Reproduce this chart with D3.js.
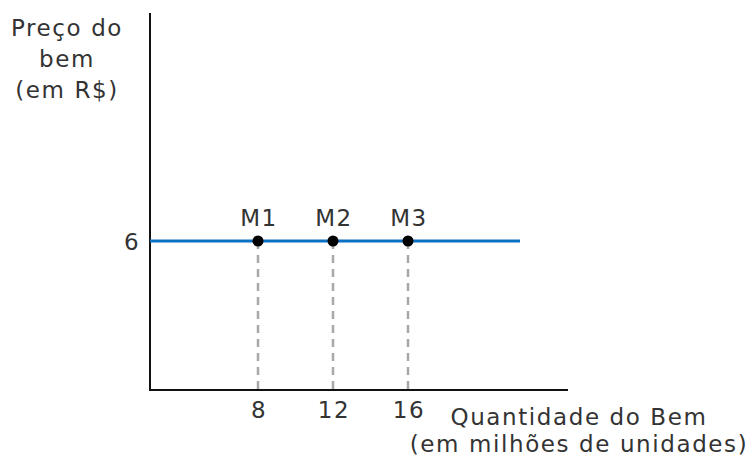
<!DOCTYPE html>
<html>
<head>
<meta charset="utf-8">
<script src="https://cdn.jsdelivr.net/npm/d3@7"></script>
<style>
  body { margin: 0; background: #fff; }
  text { font-family: "DejaVu Sans", Verdana, sans-serif; fill: #333; letter-spacing: 1.6px; }
</style>
</head>
<body>
<svg id="chart"></svg>
<script>
// valores
const pointLabels = ['M1', 'M2', 'M3'];
const quantities = [8, 12, 16];
const price = 6;
const xTicks = [8, 12, 16];
const yTicks = [6];
const yTitle = ['Preço do', 'bem', '(em R$)'];
const xTitle = ['Quantidade do Bem', '(em milhões de unidades)'];

var width = 752;
var height = 462;
var fs = 23;

const svg = d3.select('#chart')
    .attr('width', width)
    .attr('height', height);

// origem em x=150 / y=390
const x = d3.scaleLinear().domain([8, 16]).range([258, 408]);
const y = d3.scaleLinear().domain([0, 6]).range([390, 241]);

// eixos (sem ticks, so a linha)
svg.append('line')
    .attr('x1', 150).attr('x2', 150)
    .attr('y1', 13).attr('y2', 391)
    .attr('stroke', '#111').attr('stroke-width', 2);
svg.append('line')
    .attr('x1', 149).attr('x2', 568)
    .attr('y1', 390).attr('y2', 390)
    .attr('stroke', '#111').attr('stroke-width', 2);

// linhas tracejadas
svg.selectAll('.drop')
  .data(quantities)
  .enter().append('line')
    .attr('class', 'drop')
    .attr('x1', d => x(d)).attr('x2', d => x(d))
    .attr('y1', y(price)).attr('y2', 389)
    .attr('stroke', '#a8a8a8')
    .attr('stroke-width', 2.5)
    .attr('stroke-dasharray', '8,6');

// linha de oferta horizontal
svg.append('line')
    .attr('x1', 150).attr('x2', 520)
    .attr('y1', y(price)).attr('y2', y(price))
    .attr('stroke', '#0a70c4').attr('stroke-width', 3);

svg.selectAll('.pt')
  .data(quantities)
  .enter().append('circle')
    .attr('class', 'pt')
    .attr('cx', d => x(d))
    .attr('cy', y(price))
    .attr('r', 5.5)
    .attr('fill', '#000');

svg.selectAll('.plabel')
  .data(quantities)
  .enter().append('text')
    .attr('class', 'plabel')
    .attr('x', d => x(d) + 1)
    .attr('y', 226)
    .attr('text-anchor', 'middle')
    .attr('font-size', fs)
    .text((d, i) => pointLabels[i]);

svg.selectAll('.xtick')
  .data(xTicks)
  .enter().append('text')
    .attr('class', 'xtick')
    .attr('x', d => x(d) + 1)
    .attr('y', 418)
    .attr('text-anchor', 'middle')
    .attr('font-size', fs)
    .text(d => d);

svg.selectAll('.ytick')
  .data(yTicks)
  .enter().append('text')
    .attr('class', 'ytick')
    .attr('x', 132)
    .attr('y', d => y(d) + 9)
    .attr('text-anchor', 'middle')
    .attr('font-size', fs)
    .text(d => d);

svg.selectAll('.ytitle')
  .data(yTitle)
  .enter().append('text')
    .attr('class', 'ytitle')
    .attr('x', 67)
    .attr('y', (d, i) => 36 + i * 31)
    .attr('text-anchor', 'middle')
    .attr('font-size', fs)
    .text(d => d);

svg.selectAll('.xtitle')
  .data(xTitle)
  .enter().append('text')
    .attr('class', 'xtitle')
    .attr('x', 579)
    .attr('y', (d, i) => 425 + i * 27)
    .attr('text-anchor', 'middle')
    .attr('font-size', fs)
    .text(d => d);
</script>
</body>
</html>
